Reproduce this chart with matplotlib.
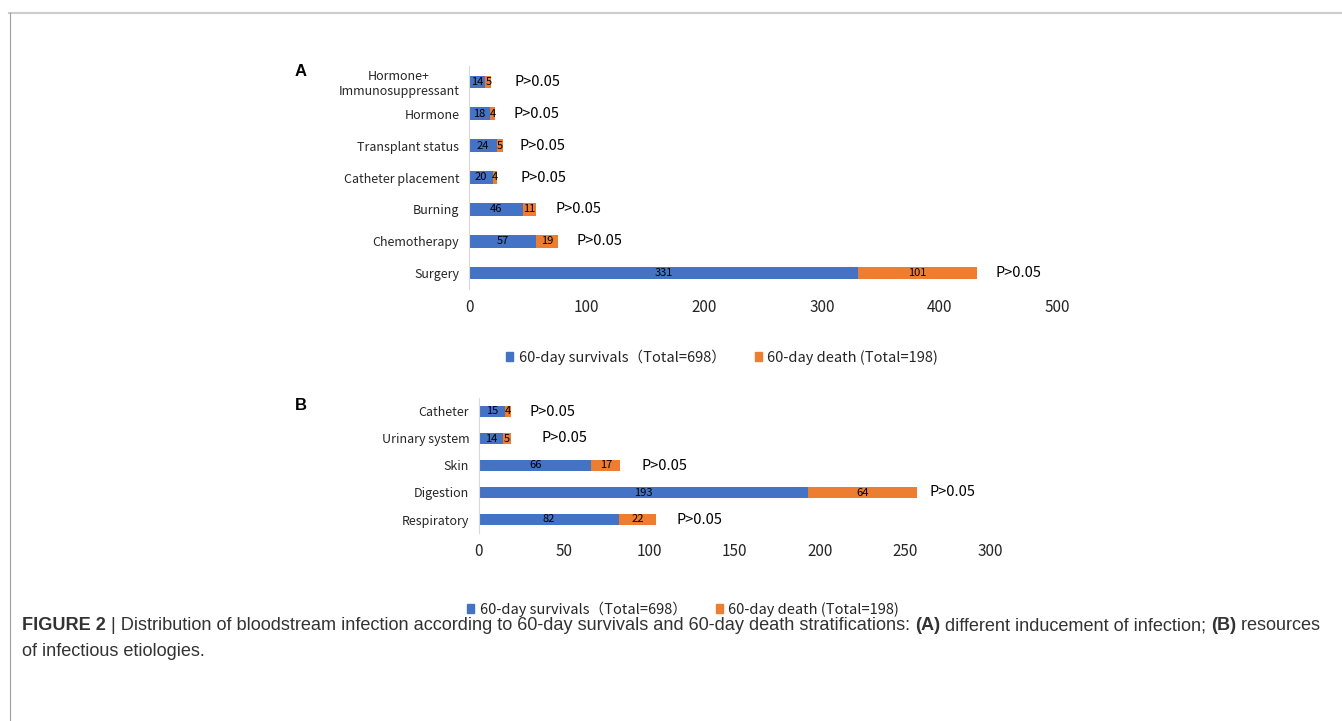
import matplotlib
matplotlib.use("Agg")
import matplotlib.pyplot as plt
from matplotlib.lines import Line2D
from matplotlib.patches import Patch
import numpy as np

plt.rcParams['font.family'] = ['Noto Sans CJK SC', 'DejaVu Sans']

# Panel A: inducement of infection (bottom to top)
cats_a = ["Surgery", "Chemotherapy", "Burning", "Catheter placement",
          "Transplant status", "Hormone", "Hormone+\nImmunosuppressant"]
surv_a = [331, 57, 46, 20, 24, 18, 14]
death_a = [101, 19, 11, 4, 5, 4, 5]
pval_a = ["P>0.05"] * 7

# Panel B: resources of infectious etiologies (bottom to top)
cats_b = ["Respiratory", "Digestion", "Skin", "Urinary system", "Catheter"]
surv_b = [82, 193, 66, 14, 15]
death_b = [22, 64, 17, 5, 4]
pval_b = ["P>0.05"] * 5

legend_labels = ["60-day survivals（Total=698）", "60-day death (Total=198)"]

BLUE = "#4472C4"
ORANGE = "#ED7D31"
TXT = "#262626"

# gap (pixels) between bar end and P label, per row
pad_a = [18, 18, 19, 23, 16, 19, 23]
pad_b = [20, 13, 21, 30, 18]

W, H = 1342, 721
fig = plt.figure(figsize=(W / 100, H / 100), dpi=100)


def px_axes(l, t, r, b):
    return fig.add_axes([l / W, 1 - b / H, (r - l) / W, (b - t) / H])


def panel(ax, cats, surv, death, pvals, pads, xmax, step):
    y = np.arange(len(cats))
    surv = np.array(surv)
    death = np.array(death)
    ax.barh(y, surv, height=0.4, color=BLUE)
    ax.barh(y, death, left=surv, height=0.4, color=ORANGE)
    for i in range(len(cats)):
        ax.text(surv[i] / 2, y[i], str(surv[i]), ha="center", va="center",
                fontsize=8, color="black")
        ax.text(surv[i] + death[i] / 2, y[i], str(death[i]), ha="center",
                va="center", fontsize=8, color="black")
        ax.annotate(pvals[i], xy=(surv[i] + death[i], y[i]),
                    xytext=(pads[i] * 0.72, 0), textcoords="offset points",
                    ha="left", va="center", fontsize=10.5, color="black")
    ax.set_xlim(0, xmax)
    ax.set_ylim(-0.5, len(cats) - 0.5)
    ax.set_xticks(np.arange(0, xmax + 1, step))
    ax.set_yticks(y)
    ax.set_yticklabels(cats, fontsize=9, color=TXT, multialignment="center")
    ax.tick_params(axis="both", length=0)
    ax.tick_params(axis="y", pad=7)
    ax.tick_params(axis="x", pad=7, labelsize=11, labelcolor=TXT)
    for s in ["top", "right", "bottom"]:
        ax.spines[s].set_visible(False)
    ax.spines["left"].set_color("#d9d9d9")
    ax.patch.set_alpha(0)


ax_a = px_axes(469, 66, 1057, 289)
panel(ax_a, cats_a, surv_a, death_a, pval_a, pad_a, 500, 100)

ax_b = px_axes(479, 398, 990, 533)
panel(ax_b, cats_b, surv_b, death_b, pval_b, pad_b, 300, 50)

handles = [Patch(color=BLUE), Patch(color=ORANGE)]
for cx, cy in [(722, 357), (683, 609)]:
    fig.legend(handles, legend_labels, loc="center",
               bbox_to_anchor=(cx / W, 1 - cy / H), ncol=2, frameon=False,
               fontsize=10.5, handlelength=0.5, handleheight=0.5,
               handletextpad=0.35, columnspacing=2.0, labelcolor=TXT)

fig.text(295 / W, 1 - 72 / H, "A", fontsize=12, fontweight="bold",
         family="Liberation Sans", ha="left", va="center")
fig.text(295 / W, 1 - 405 / H, "B", fontsize=12, fontweight="bold",
         family="Liberation Sans", ha="left", va="center")

# frame lines
fig.add_artist(Line2D([9 / W, 1], [1 - 13 / H, 1 - 13 / H],
                      color="#cccccc", lw=1.5))
fig.add_artist(Line2D([9.5 / W, 9.5 / W], [0, 1 - 13 / H],
                      color="#a0a0a0", lw=0.8))

# caption, mixed bold / regular
cap_font = dict(family="Liberation Sans", fontsize=13.1, color="#333333")
line1 = [("FIGURE 2", "bold"),
         (" | Distribution of bloodstream infection according to 60-day "
          "survivals and 60-day death stratifications: ", "normal"),
         ("(A)", "bold"),
         (" different inducement of infection; ", "normal"),
         ("(B)", "bold"),
         (" resources", "normal")]
prev = fig.text(22 / W, 1 - 626 / H, line1[0][0], fontweight=line1[0][1],
                ha="left", va="center", **cap_font)
for txt, wt in line1[1:]:
    prev = plt.annotate(txt, xy=(1, 0), xycoords=prev, ha="left",
                        va="bottom", fontweight=wt, annotation_clip=False,
                        **cap_font)
fig.text(22 / W, 1 - 651 / H, "of infectious etiologies.", ha="left",
         va="center", **cap_font)

fig.savefig("out.png", dpi=100)
